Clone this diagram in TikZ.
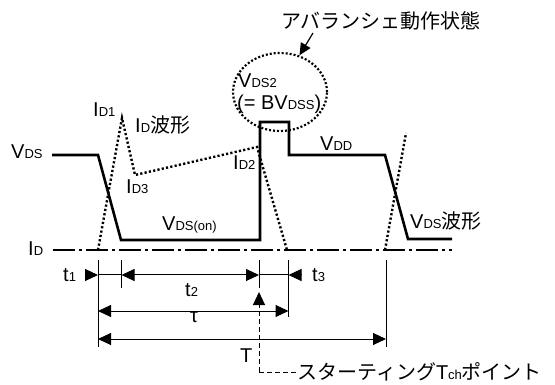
\documentclass[tikz,border=0pt]{standalone}
\usepackage{fontspec}
\setmainfont{Liberation Sans}
\newfontfamily\jpfont{Noto Sans CJK JP}
\usetikzlibrary{arrows.meta,shapes.geometric}
\newcommand\sbx[1]{{\fontsize{13}{13}\selectfont #1}}
\begin{document}
\begin{tikzpicture}[x=1pt,y=-1pt,
 lbl/.style={inner sep=0pt,font=\fontsize{20}{24}\selectfont},
 wave/.style={line width=2.6pt, line join=miter},
 curr/.style={line width=2.4pt, dash pattern=on 2.2pt off 2.2pt},
 axisline/.style={line width=2.4pt, dash pattern=on 22pt off 4pt on 3pt off 4pt},
 dim/.style={line width=1pt},
 tip/.style={-{Triangle[length=13pt,width=12pt]}},
 tips/.style={{Triangle[length=13pt,width=12pt]}-{Triangle[length=13pt,width=12pt]}},
 dsh/.style={line width=1pt, dash pattern=on 5pt off 3pt}
]
\useasboundingbox (0,0) rectangle (555,385);
% waveform points
\coordinate (w0) at (52,155);
\coordinate (w1) at (98,155);
\coordinate (w2) at (121,240);
\coordinate (w3) at (260,240);
\coordinate (w4) at (260,122);
\coordinate (w5) at (289,122);
\coordinate (w6) at (289,155);
\coordinate (w7) at (385,155);
\coordinate (w8) at (408,239);
\coordinate (w9) at (452,239);
% current points
\coordinate (c0) at (98,250);
\coordinate (c1) at (122,118);
\coordinate (c2) at (135,175);
\coordinate (c3) at (257,147);
\coordinate (c4) at (287,250);
\coordinate (c5) at (385,250);
\coordinate (c6) at (406,133);
% axis
\coordinate (a0) at (53,250);
\coordinate (a1) at (452,250);

\draw[axisline] (a0) -- (a1);
\draw[curr] (c0) -- (c1) -- (c2) -- (c3) -- (c4);
\draw[curr] (c5) -- (c6);
\draw[wave] (w0) -- (w1) -- (w2) -- (w3) -- (w4) -- (w5) -- (w6) -- (w7) -- (w8) -- (w9);

% ellipse
\node[draw, ellipse, line width=2.2pt, dash pattern=on 2pt off 2pt, minimum width=94pt, minimum height=78pt, inner sep=0pt] (av) at (280,92) {};
\node[lbl, anchor=base west] (vds2) at (238,88) {V\sbx{DS2}};
\node[lbl, anchor=base west] (bv) at (237,110) {(= BV\sbx{DSS})};
\node[lbl, anchor=west, font=\fontsize{20}{24}\jpfont] (avl) at (281,21) {アバランシェ動作状態};
\coordinate (avs) at (313,33);
\draw[dim, line width=1.2pt, -{Triangle[length=12pt,width=11pt]}] (avs) -- (av.62);

% labels
\node[lbl, anchor=base west] (lvds) at (11,159) {V\sbx{DS}};
\node[lbl, anchor=base west] (lid1) at (93,117) {I\sbx{D1}};
\node[lbl, anchor=base west] (lidw) at (135,133) {I\sbx{D}{\jpfont 波形}};
\node[lbl, anchor=base west] (lid3) at (126,194) {I\sbx{D3}};
\node[lbl, anchor=base west] (lid2) at (233,170) {I\sbx{D2}};
\node[lbl, anchor=base west] (lvon) at (162,231) {V\sbx{DS(on)}};
\node[lbl, anchor=base west] (lid) at (28,256) {I\sbx{D}};
\node[lbl, anchor=base west] (lvdd) at (320,151) {V\sbx{DD}};
\node[lbl, anchor=base west] (lvdsw) at (410,229) {V\sbx{DS}{\jpfont 波形}};

% dimension lines
\coordinate (A0) at (98,260);   \coordinate (A1) at (98,347);
\coordinate (B0) at (121.5,260); \coordinate (B1) at (121.5,288);
\coordinate (C0) at (259,260);  \coordinate (C1) at (259,288);
\coordinate (D0) at (288.5,260); \coordinate (D1) at (288.5,317);
\coordinate (E0) at (386,260);  \coordinate (E1) at (386,347);
\foreach \p in {A,B,C,D,E} \draw[dim] (\p0) -- (\p1);

\coordinate (tA) at (98,275); \coordinate (tB) at (121.5,275);
\coordinate (tC) at (259,275); \coordinate (tD) at (288.5,275);
\coordinate (tL) at (85,275); \coordinate (tR) at (301,275);
\draw[dim,tip] (tL) -- (tA);
\draw[dim] (tA) -- (tB);
\draw[dim,tips] (tB) -- (tC);
\draw[dim] (tC) -- (tD);
\draw[dim,tip] (tR) -- (tD);

\coordinate (uA) at (98,311); \coordinate (uD) at (288.5,311);
\draw[dim,tips] (uA) -- (uD);
\coordinate (vA) at (98,339); \coordinate (vE) at (386,339);
\draw[dim,tips] (vA) -- (vE);

\node[lbl, anchor=base west] (lt1) at (63,282) {t\sbx{1}};
\node[lbl, anchor=base west] (lt2) at (185,297) {t\sbx{2}};
\node[lbl, anchor=base west] (lt3) at (312,282) {t\sbx{3}};
\node[lbl, anchor=base] (ltau) at (194,323) {τ};
\node[lbl, anchor=base west] (lT) at (240,362) {T};

% starting point
\coordinate (sp) at (259,292);
\coordinate (sc) at (259,372);
\node[lbl, anchor=west] (ls) at (297,372) {{\jpfont スターティング}T\sbx{ch}{\jpfont ポイント}};
\draw[dsh, -{Triangle[length=13pt,width=12pt]}] (sc) -- (sp);
\draw[dsh] (sc) -- (ls.west);
\end{tikzpicture}
\end{document}
